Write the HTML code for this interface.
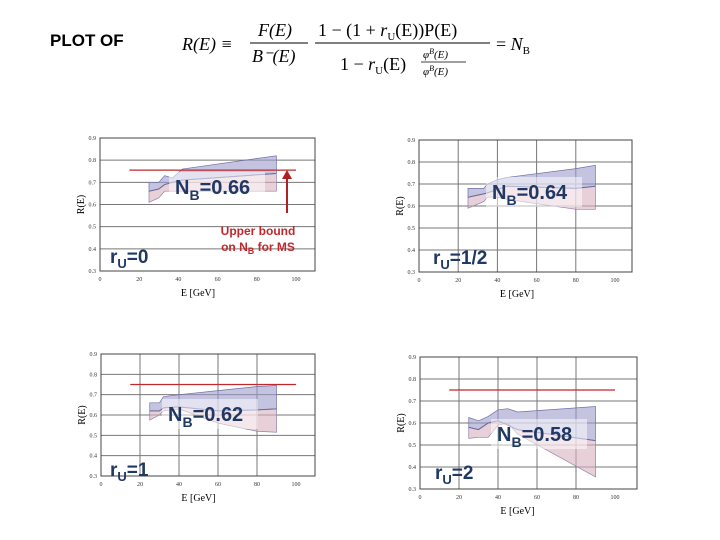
<!DOCTYPE html>
<html><head><meta charset="utf-8"><style>
body{margin:0;background:#fff}
#root{position:relative;width:720px;height:540px;overflow:hidden;font-family:"Liberation Sans",sans-serif}
svg text{font-family:"Liberation Serif",serif}
</style></head><body>
<div id="root">
<svg id="svg" width="720" height="540">
<text x="50" y="46" style="font-family:'Liberation Sans',sans-serif;font-weight:bold;font-size:17px">PLOT OF</text>
<g font-style="italic" font-size="18">
<text x="182" y="50">R(E) ≡</text>
<text x="258" y="36">F(E)</text>
<line x1="250" y1="43" x2="308" y2="43" stroke="#000" stroke-width="1"/>
<text x="252" y="62">B⁻(E)</text>
<text x="318" y="36" font-style="normal">1 − (1 + <tspan font-style="italic">r</tspan><tspan font-size="11" dy="4">U</tspan><tspan dy="-4">(E))P(E)</tspan></text>
<line x1="315" y1="43" x2="490" y2="43" stroke="#000" stroke-width="1"/>
<text x="340" y="70" font-style="normal">1 − <tspan font-style="italic">r</tspan><tspan font-size="11" dy="4">U</tspan><tspan dy="-4">(E)</tspan></text>
<text x="423" y="58" font-size="11">φ<tspan dy="-4" font-size="8">B</tspan><tspan dy="4">(E)</tspan></text>
<line x1="421" y1="62" x2="466" y2="62" stroke="#000" stroke-width="0.7"/>
<text x="423" y="75" font-size="11">φ<tspan dy="-4" font-size="8">B</tspan><tspan dy="4">(E)</tspan></text>
<text x="496" y="50" font-style="normal">= <tspan font-style="italic">N</tspan><tspan font-size="11" dy="4">B</tspan></text>
</g>
</svg>
</div>
<script>
// panel 1 (rU=0)
const p1E=[25,30,33,37,42,90];
const p1Up=[0.70,0.70,0.73,0.72,0.76,0.82];
const p1Mid=[0.66,0.67,0.69,0.70,0.71,0.74];
const p1Lo=[0.61,0.63,0.66,0.66,0.66,0.66];
// panel 2 (rU=1/2)
const p2E=[25,33,35,40,45,80,90];
const p2Up=[0.68,0.68,0.70,0.72,0.73,0.77,0.785];
const p2Mid=[0.64,0.655,0.66,0.675,0.69,0.68,0.69];
const p2Lo=[0.59,0.62,0.64,0.64,0.63,0.585,0.585];
// panel 3 (rU=1)
const p3E=[25,30,32,40,60,80,90];
const p3Up=[0.66,0.66,0.69,0.70,0.72,0.74,0.745];
const p3Mid=[0.62,0.62,0.635,0.64,0.62,0.625,0.63];
const p3Lo=[0.575,0.60,0.62,0.63,0.56,0.52,0.515];
// panel 4 (rU=2)
const p4E=[25,30,35,40,45,50,90];
const p4Up=[0.625,0.61,0.63,0.66,0.665,0.65,0.675];
const p4Mid=[0.58,0.57,0.60,0.61,0.59,0.57,0.52];
const p4Lo=[0.53,0.535,0.535,0.59,0.60,0.55,0.355];
const redLevels=[0.755,null,0.75,0.75];
const xTicks=[0,20,40,60,80,100];
const yTicks=[0.3,0.4,0.5,0.6,0.7,0.8,0.9];
const nbLabels=["0.66","0.64","0.62","0.58"];
const ruLabels=["0","1/2","1","2"];

const NS="http://www.w3.org/2000/svg";
const svg=document.getElementById('svg');
function mk(t,a,p){const e=document.createElementNS(NS,t);for(const k in a)e.setAttribute(k,a[k]);(p||svg).appendChild(e);return e;}
const panels=[
 {L:100,R:315,T:138,B:271,x100:296,E:p1E,up:p1Up,mid:p1Mid,lo:p1Lo,vgrid:false,nb:[175,194],ru:[110,263]},
 {L:419,R:632,T:140,B:272,x100:615,E:p2E,up:p2Up,mid:p2Mid,lo:p2Lo,vgrid:true,nb:[492,199],ru:[433,264]},
 {L:101,R:315,T:354,B:476,x100:296,E:p3E,up:p3Up,mid:p3Mid,lo:p3Lo,vgrid:true,nb:[168,421],ru:[110,476]},
 {L:420,R:637,T:357,B:489,x100:615,E:p4E,up:p4Up,mid:p4Mid,lo:p4Lo,vgrid:true,nb:[497,441],ru:[435,479]}
];
panels.forEach((p,i)=>{
 const g=mk('g',{});
 
 
 const xs=v=>p.L+(v/100)*(p.x100-p.L);
 const ys=v=>p.B-(v-0.3)/0.6*(p.B-p.T);
 yTicks.forEach(t=>{
  const l=mk('line',{x1:p.L,x2:p.R,y1:ys(t),y2:ys(t),stroke:'#777','stroke-width':1},g);
  
  
  const tx=mk('text',{x:p.L-4,y:ys(t)+2,'font-size':6,'text-anchor':'end',fill:'#333'},g);
  
  
  tx.textContent=t.toFixed(1);
 });
 xTicks.forEach(t=>{
  if(p.vgrid&&t>0&&t<100){const l=mk('line',{x1:xs(t),x2:xs(t),y1:p.T,y2:p.B,stroke:'#777','stroke-width':1},g);
  
  }
  const tx=mk('text',{x:xs(t),y:p.B+10,'font-size':6,'text-anchor':'middle',fill:'#333'},g);
  
  
  tx.textContent=t;
 });
 const fr=mk('rect',{x:p.L,y:p.T,width:p.R-p.L,height:p.B-p.T,fill:'none',stroke:'#444','stroke-width':1},g);
 
 
 const xl=mk('text',{x:(p.L+p.x100)/2,y:p.B+25,'font-size':10,'text-anchor':'middle'},g);
 
 
 xl.textContent='E [GeV]';
 const yl=mk('text',{x:0,y:0,'font-size':10,'text-anchor':'middle',transform:`translate(${p.L-16},${(p.T+p.B)/2}) rotate(-90)`},g);
 
 
 yl.textContent='R(E)';
 const pts=a=>p.E.map((e,k)=>xs(e)+','+ys(a[k]));
 const upper=pts(p.up),mid=pts(p.mid),low=pts(p.lo);
 const b1=mk('polygon',{points:upper.concat(mid.slice().reverse()).join(' '),fill:'#9c9ccc','fill-opacity':0.6,stroke:'#7070a8','stroke-width':0.7},g);
 
 
 const b2=mk('polygon',{points:mid.concat(low.slice().reverse()).join(' '),fill:'#d8b0c0','fill-opacity':0.6,stroke:'#9080a8','stroke-width':0.7},g);
 
 
 const ml=mk('polyline',{points:mid.join(' '),fill:'none',stroke:'#6a6aa0','stroke-width':1},g);
 
 
 if(redLevels[i]!==null){
  const r=mk('line',{x1:xs(15),x2:xs(100),y1:ys(redLevels[i]),y2:ys(redLevels[i]),stroke:'#c0282c','stroke-width':1.3},g);
  
  
 }
 const nbBg=mk('rect',{x:p.nb[0]-6,y:p.nb[1]-22,width:96,height:30,fill:'#fff','fill-opacity':0.5},g);
 
 
 const nb=mk('text',{x:p.nb[0],y:p.nb[1],'font-size':20,'font-weight':'bold',fill:'#1f3864',style:"font-family:'Liberation Sans',sans-serif"},g);
 
 
 nb.innerHTML='N<tspan font-size="14" dy="6">B</tspan><tspan dy="-6">='+nbLabels[i]+'</tspan>';
 const ru=mk('text',{x:p.ru[0],y:p.ru[1],'font-size':19,'font-weight':'bold',fill:'#1f3864',style:"font-family:'Liberation Sans',sans-serif"},g);
 
 
 ru.innerHTML='r<tspan font-size="13" dy="5">U</tspan><tspan dy="-5">='+ruLabels[i]+'</tspan>';
});
const ag=mk('g',{});


mk('line',{x1:287,y1:213,x2:287,y2:178,stroke:'#b02020','stroke-width':2},ag);
mk('polygon',{points:'282,179 292,179 287,170',fill:'#b02020'},ag);
const a1=mk('text',{x:258,y:235,'font-size':12,'font-weight':'bold',fill:'#c0282c','text-anchor':'middle',style:"font-family:'Liberation Sans',sans-serif"},ag);
a1.textContent='Upper bound';
const a2=mk('text',{x:258,y:251,'font-size':12,'font-weight':'bold',fill:'#c0282c','text-anchor':'middle',style:"font-family:'Liberation Sans',sans-serif"},ag);
a2.innerHTML='on N<tspan font-size="9" dy="3">B</tspan><tspan dy="-3"> for MS</tspan>';
</script>
</body></html>
